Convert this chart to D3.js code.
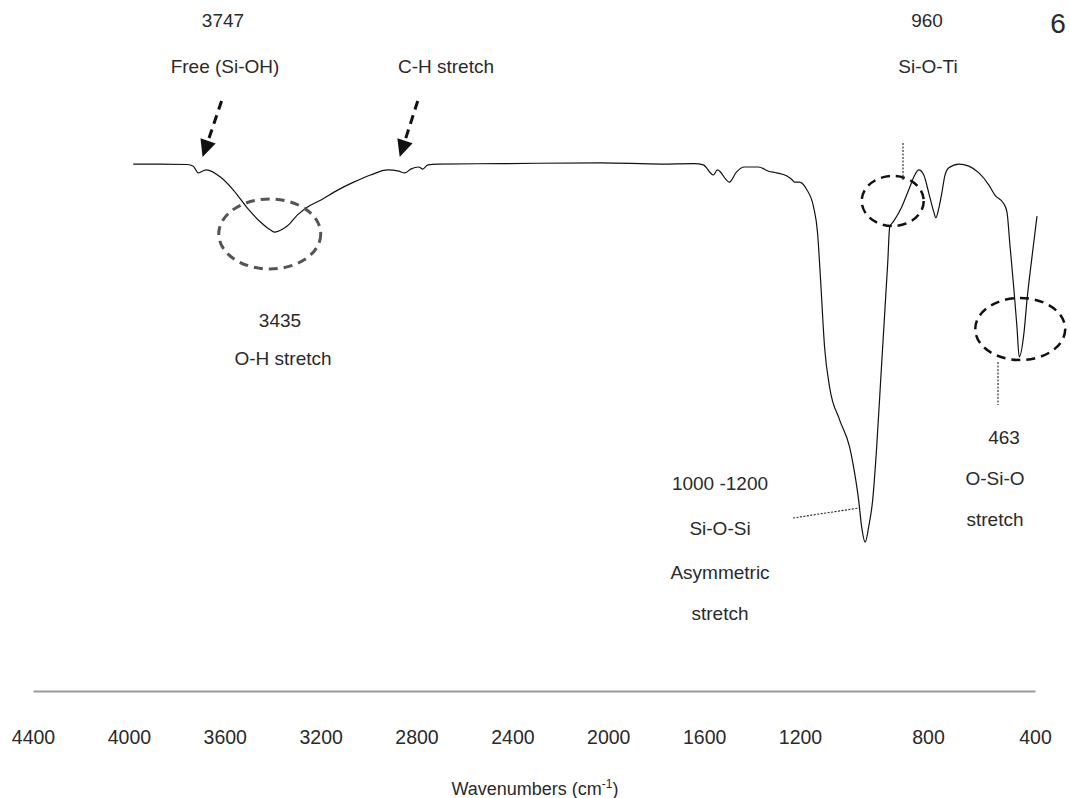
<!DOCTYPE html>
<html>
<head>
<meta charset="utf-8">
<script src="https://cdn.jsdelivr.net/npm/d3@7/dist/d3.min.js"></script>
<style>
  html, body { margin: 0; padding: 0; background: #fff; }
  svg { display: block; }
  text { font-family: "Liberation Sans", Arial, Helvetica, sans-serif; fill: #2a2a2a; }
</style>
</head>
<body>
<svg id="chart" width="1070" height="798"></svg>
<script>
// FTIR spectrum: wavenumber (cm-1) and transmittance (%)
const wavenumbers = [
  4000, 3892, 3784, 3760, 3740, 3724, 3708, 3652, 3600, 3544, 3492, 3452, 3435,
  3404, 3384, 3344, 3304, 3252, 3184, 3120, 3052, 2984, 2940, 2916, 2892, 2860,
  2844, 2824, 2784, 2532, 2132, 1892, 1760, 1724, 1684, 1668, 1620, 1592, 1560,
  1504, 1464, 1432, 1392, 1372, 1360, 1340, 1312, 1284, 1268, 1256, 1240, 1220,
  1180, 1140, 1120, 1104, 1092, 1078, 1064, 1048, 1032, 1016, 1000, 988, 980,
  964, 932, 900, 880, 864, 844, 824, 804, 796, 784, 772, 760, 744, 704, 664,
  624, 584, 560, 524, 512, 500, 484, 472, 463, 444, 432, 412, 392
];
const transmittance = [
  95.7, 95.7, 95.6, 95.2, 93.6, 94.0, 94.3, 92.6, 89.5, 85.2, 81.9, 80.0, 79.5,
  80.2, 81.0, 83.6, 85.5, 87.1, 89.5, 91.4, 93.1, 94.3, 94.0, 93.6, 94.5, 95.0,
  94.5, 95.5, 95.7, 95.8, 96.0, 95.7, 95.8, 95.5, 93.1, 94.3, 91.4, 93.8, 95.0,
  95.0, 94.0, 93.6, 92.9, 92.1, 91.4, 91.4, 89.7, 85.5, 79.3, 68.1, 52.1, 42.6,
  34.8, 28.3, 22.1, 15.7, 9.3, 5.7, 9.3, 15.7, 28.3, 44.3, 60.2, 72.1, 80.7,
  82.1, 85.5, 90.2, 93.1, 94.3, 93.1, 88.8, 84.3, 82.9, 85.2, 88.8, 92.9, 94.8,
  95.7, 95.2, 93.6, 90.7, 88.3, 86.2, 84.3, 76.4, 65.7, 56.9, 49.8, 55.5, 63.3,
  73.6, 83.3
];

// Axis tick labels
const tickValues = [4400, 4000, 3600, 3200, 2800, 2400, 2000, 1600, 1200, 800, 400];

// Band annotations
const bandLabels = [
  { lines: ["3747", "Free (Si-OH)"], cx: [223, 225], ys: [27, 73] },
  { lines: ["C-H stretch"], cx: [446], ys: [73] },
  { lines: ["960", "Si-O-Ti"], cx: [927, 928], ys: [27, 73] },
  { lines: ["3435", "O-H stretch"], cx: [280, 283], ys: [327, 365] },
  { lines: ["1000 -1200", "Si-O-Si", "Asymmetric", "stretch"], cx: [720, 720, 720, 720], ys: [490, 535, 579, 620] },
  { lines: ["463", "O-Si-O", "stretch"], cx: [1004, 995, 995], ys: [444, 485, 526] }
];

const svg = d3.select("#chart");

// Spectrum scales
const x = d3.scaleLinear().domain([4400, 400]).range([33, 1035]);
const y = d3.scaleLinear().domain([0, 100]).range([566, 146]);

// Label scale for the printed wavenumber axis
const xAxisScale = d3.scaleLinear()
  .domain([4400, 1200, 800, 400])
  .range([33, 800, 928, 1035]);

const axisY = 691;
const axis = d3.axisBottom(xAxisScale)
  .tickValues(tickValues)
  .tickFormat(d3.format("d"))
  .tickSize(0)
  .tickSizeOuter(0)
  .tickPadding(39);

const gAxis = svg.append("g").attr("transform", `translate(0,${axisY})`).call(axis);
gAxis.select(".domain").attr("stroke", "#9a9a9a").attr("stroke-width", 2.2);
gAxis.selectAll(".tick text")
  .style("font-family", '"Liberation Sans", Arial, sans-serif')
  .style("font-size", "19.5px")
  .attr("fill", "#2a2a2a");

// Axis title with superscript
const title = svg.append("text")
  .attr("x", 535).attr("y", 795)
  .attr("text-anchor", "middle")
  .style("font-size", "18px");
title.append("tspan").text("Wavenumbers (cm");
title.append("tspan").attr("dy", -7).style("font-size", "12px").text("-1");
title.append("tspan").attr("dy", 7).text(")");

// Page number
svg.append("text").attr("x", 1058).attr("y", 33)
  .attr("text-anchor", "middle").style("font-size", "28px").text("6");

// Spectrum
const spectrum = wavenumbers.map((w, i) => ({ w, t: transmittance[i] }));
const line = d3.line()
  .x(d => x(d.w))
  .y(d => y(d.t))
  .curve(d3.curveMonotoneX);

svg.append("path")
  .datum(spectrum)
  .attr("fill", "none")
  .attr("stroke", "#111")
  .attr("stroke-width", 1.2)
  .attr("d", line);

// Text labels
const gLab = svg.append("g");
bandLabels.forEach(b => {
  b.lines.forEach((s, i) => {
    gLab.append("text")
      .attr("x", b.cx[i]).attr("y", b.ys[i])
      .attr("text-anchor", "middle")
      .style("font-size", "19px")
      .text(s);
  });
});

// Dashed arrows pointing at the weak bands
function arrow(tipX, tipY, tailX, tailY) {
  const ang = Math.atan2(tipY - tailY, tipX - tailX);
  const headLen = 17, headW = 8;
  const bx = tipX - headLen * Math.cos(ang), by = tipY - headLen * Math.sin(ang);
  svg.append("line")
    .attr("x1", tailX).attr("y1", tailY).attr("x2", bx).attr("y2", by)
    .attr("stroke", "#111").attr("stroke-width", 3)
    .attr("stroke-dasharray", "9,6");
  const px = -Math.sin(ang) * headW, py = Math.cos(ang) * headW;
  svg.append("polygon")
    .attr("points", `${tipX},${tipY} ${bx + px},${by + py} ${bx - px},${by - py}`)
    .attr("fill", "#111");
}
arrow(x(3747) + 6, 157, x(3747) + 25, 101);
arrow(x(2936) + 0, 157, x(2936) + 18, 101);

// Soft blur for the gray ellipse
const defs = svg.append("defs");
defs.append("filter").attr("id", "soft")
  .append("feGaussianBlur").attr("stdDeviation", 0.7);

// Dashed ellipses around bands
svg.append("ellipse")
  .attr("cx", x(3435) - 5).attr("cy", 234).attr("rx", 51).attr("ry", 35)
  .attr("fill", "none").attr("stroke", "#555").attr("stroke-width", 3)
  .attr("stroke-dasharray", "9,6").attr("filter", "url(#soft)");

svg.append("ellipse")
  .attr("cx", x(960) - 2).attr("cy", 201).attr("rx", 31).attr("ry", 25)
  .attr("fill", "none").attr("stroke", "#111").attr("stroke-width", 2.5)
  .attr("stroke-dasharray", "9,6");

svg.append("ellipse")
  .attr("cx", x(463) + 1).attr("cy", 329).attr("rx", 45).attr("ry", 31)
  .attr("fill", "none").attr("stroke", "#111").attr("stroke-width", 2.5)
  .attr("stroke-dasharray", "9,6");

// Dotted leader lines
const dotted = (x1, y1, x2, y2) => svg.append("line")
  .attr("x1", x1).attr("y1", y1).attr("x2", x2).attr("y2", y2)
  .attr("stroke", "#222").attr("stroke-width", 1.1)
  .attr("stroke-dasharray", "2,1.5");

dotted(903, 143, 903, 180);
dotted(998, 362, 998, 405);
dotted(793, 518, 859, 508);
</script>
</body>
</html>
